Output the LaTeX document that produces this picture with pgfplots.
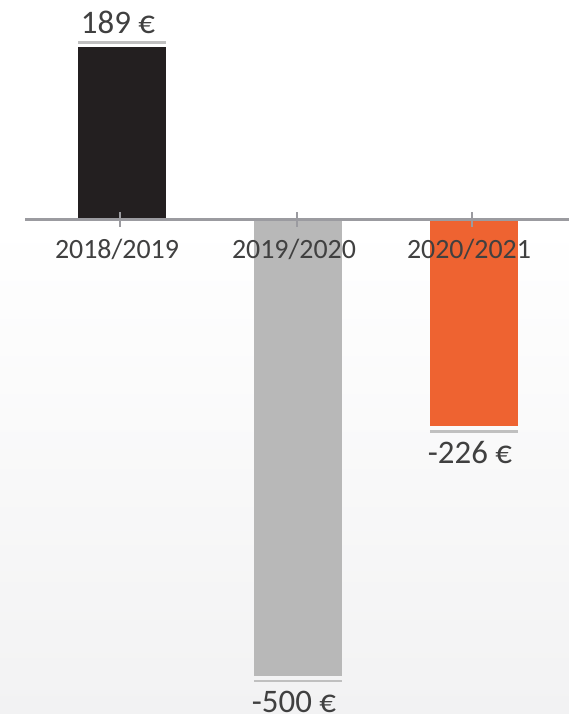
\documentclass[border=0pt]{standalone}
\usepackage{pgfplots}
\pgfplotsset{compat=1.18}
\usepackage{fontspec}
\setmainfont{Carlito}
\definecolor{barblack}{HTML}{231F20}
\definecolor{bargray}{HTML}{B8B8B8}
\definecolor{barorange}{HTML}{EE6331}
\definecolor{linegray}{HTML}{C0C0C0}
\definecolor{axisgray}{HTML}{9B9BA0}
\definecolor{textgray}{HTML}{404040}
\definecolor{bglow}{HTML}{F2F2F3}
\newcommand{\poslabel}[1]{\vbox{\offinterlineskip\hbox to 88bp{\hss\fontsize{33}{33}\selectfont #1\hskip 8bp\hss}\vskip 7.5bp\hbox{\textcolor{linegray}{\rule{88bp}{2.7bp}}}}}
\newcommand{\neglabel}[2]{\vbox{\offinterlineskip\hbox{\textcolor{linegray}{\rule{88bp}{2.7bp}}}\vskip #2\hbox to 88bp{\hss\fontsize{33}{33}\selectfont #1\hskip 8bp\hss}}}
\begin{document}
\begin{tikzpicture}
\useasboundingbox (0,0) rectangle (569bp,714bp);
\fill[white] (0,0) rectangle (569bp,714bp);
\shade[top color=white, bottom color=bglow] (0,0) rectangle (569bp,490bp);
\begin{axis}[
  at={(0,0)}, anchor=south west,
  width=569bp, height=714bp, scale only axis,
  xmin=-0.6932, xmax=2.5398, ymin=-542.2, ymax=240.7,
  ybar,
  axis on top,
  axis x line=middle,
  x axis line style={-, draw=none},
  hide y axis,
  xtick={-0.0114,0.9943,1.9886},
  xticklabels={2018/2019,2019/2020,2020/2021},
  major tick length=0pt,
  xticklabel style={font=\fontsize{28}{28}\selectfont, text=textgray, xshift=-3bp, anchor=north, yshift=-16bp},
  clip=false,
  every node near coord/.append style={inner sep=0pt, text=textgray},
]
\addplot[fill=barblack, draw=none, bar width=88bp, bar shift=0pt,
  nodes near coords={\poslabel{189~€}},
  every node near coord/.append style={anchor=south, yshift=3.3bp}]
  coordinates {(0,189)};
\addplot[fill=bargray, draw=none, bar width=88bp, bar shift=0pt,
  nodes near coords={\neglabel{-500~€}{9bp}},
  every node near coord/.append style={anchor=north, yshift=-4bp}]
  coordinates {(1,-500)};
\addplot[fill=barorange, draw=none, bar width=88bp, bar shift=0pt,
  nodes near coords={\neglabel{-226~€}{9bp}},
  every node near coord/.append style={anchor=north, yshift=-4bp}]
  coordinates {(2,-226)};
\draw[axisgray, line width=2.5bp] (axis cs:-0.5511,0) -- (axis cs:2.5398,0);
\draw[axisgray, line width=2.5bp] ([yshift=7.5bp]axis cs:-0.0114,0) -- ([yshift=-7.5bp]axis cs:-0.0114,0);
\draw[axisgray, line width=2.5bp] ([yshift=7.5bp]axis cs:0.9943,0) -- ([yshift=-7.5bp]axis cs:0.9943,0);
\draw[axisgray, line width=2.5bp] ([yshift=7.5bp]axis cs:1.9886,0) -- ([yshift=-7.5bp]axis cs:1.9886,0);
\end{axis}
\end{tikzpicture}
\end{document}
